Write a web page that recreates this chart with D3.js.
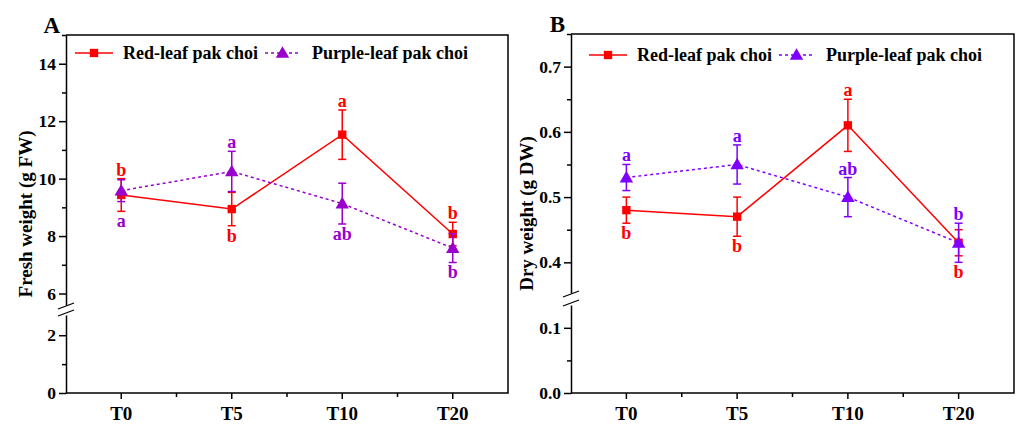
<!DOCTYPE html>
<html>
<head>
<meta charset="utf-8">
<script src="https://cdn.jsdelivr.net/npm/d3@7"></script>
<style>
  body { margin: 0; background: #fff; }
  svg { display: block; font-family: "Liberation Serif", "Times New Roman", serif; font-weight: bold; }
</style>
</head>
<body>
<svg id="chart" width="1016" height="424"></svg>
<script>
// time points on the x axis
var timePoints = ["T0", "T5", "T10", "T20"];

// panel A - fresh weight (g FW)
var freshRed = [9.43, 8.94, 11.53, 8.07];
var freshRedErr = [0.57, 0.58, 0.86, 0.41];
var freshPurple = [9.58, 10.25, 9.13, 7.58];
var freshPurpleErr = [0.38, 0.70, 0.71, 0.50];
var freshRedLetters = ["b", "b", "a", "b"];
var freshPurpleLetters = ["a", "a", "ab", "b"];
var freshTicksUpper = [6, 8, 10, 12, 14];
var freshTicksLower = [0, 2];

// panel B - dry weight (g DW)
var dryRed = [0.48, 0.47, 0.61, 0.43];
var dryRedErr = [0.02, 0.03, 0.04, 0.02];
var dryPurple = [0.53, 0.55, 0.50, 0.43];
var dryPurpleErr = [0.02, 0.03, 0.03, 0.03];
var dryRedLetters = ["b", "b", "a", "b"];
var dryPurpleLetters = ["a", "a", "ab", "b"];
var dryTicksUpper = [0.4, 0.5, 0.6, 0.7];
var dryTicksLower = [0.0, 0.1];

var seriesNames = ["Red-leaf pak choi", "Purple-leaf pak choi"];

var svg = d3.select("#chart");

var panels = [
  {
    label: "A", title: "Fresh weight (g FW)",
    left: 66, right: 508, top: 35, bottom: 393, titleX: 25,
    upper: { domain: [5.6, 15], range: [305, 35] },
    lower: { domain: [0, 2.7], range: [393, 315] },
    ticksUpper: freshTicksUpper, ticksLower: freshTicksLower, fmt: d3.format("d"),
    red: freshRed, redErr: freshRedErr, redLetters: freshRedLetters, redSide: [-1, 1, -1, -1],
    purple: freshPurple, purpleErr: freshPurpleErr, purpleLetters: freshPurpleLetters, purpleSide: [1, -1, 1, 1],
    purpleColor: "#9900cc",
    legendY: 53, legend: [75, 265]
  },
  {
    label: "B", title: "Dry weight (g DW)",
    left: 571, right: 1014, top: 34, bottom: 393, titleX: 526,
    upper: { domain: [0.353, 0.75], range: [293, 34] },
    lower: { domain: [0, 0.135], range: [393, 305] },
    ticksUpper: dryTicksUpper, ticksLower: dryTicksLower, fmt: d3.format(".1f"),
    red: dryRed, redErr: dryRedErr, redLetters: dryRedLetters, redSide: [1, 1, -1, 1],
    purple: dryPurple, purpleErr: dryPurpleErr, purpleLetters: dryPurpleLetters, purpleSide: [-1, -1, -1, -1],
    purpleColor: "#7f00ff",
    legendY: 55, legend: [589, 779]
  }
];

var red = "#ff0000";

panels.forEach(drawPanel);

function drawPanel(p) {
  var g = svg.append("g");

  var x = d3.scaleBand().domain(timePoints).range([p.left, p.right]).padding(0);
  var cx = function (t) { return x(t) + x.bandwidth() / 2; };

  var yUp = d3.scaleLinear().domain(p.upper.domain).range(p.upper.range);
  var yLo = d3.scaleLinear().domain(p.lower.domain).range(p.lower.range);
  var y = function (v) { return v >= p.upper.domain[0] ? yUp(v) : yLo(v); };

  // frame: top, right, bottom
  g.append("path")
    .attr("d", "M" + p.left + "," + p.top + "H" + p.right + "V" + p.bottom + "H" + p.left)
    .attr("fill", "none").attr("stroke", "#000").attr("stroke-width", 1.5);

  // y axis segments with major and minor ticks
  [[yUp, p.ticksUpper], [yLo, p.ticksLower]].forEach(function (seg) {
    var sc = seg[0], ticks = seg[1];
    var step = ticks[1] - ticks[0];
    var minor = [];
    for (var i = -1; i < ticks.length; i++) {
      var m = ticks[0] + step * (i + 0.5);
      if (m >= sc.domain()[0] && m <= sc.domain()[1]) minor.push(m);
    }
    var ax = g.append("g")
      .attr("transform", "translate(" + p.left + ",0)")
      .call(d3.axisLeft(sc).tickValues(ticks).tickFormat(p.fmt).tickSize(7).tickSizeOuter(0).tickPadding(3));
    ax.select(".domain").attr("stroke-width", 1.5);
    ax.selectAll(".tick line").attr("stroke-width", 1.5);
    ax.selectAll("text").attr("font-size", 17.5).attr("fill", "#000");
    ax.attr("font-family", null);

    g.append("g")
      .attr("transform", "translate(" + p.left + ",0)")
      .call(d3.axisLeft(sc).tickValues(minor).tickFormat("").tickSize(4).tickSizeOuter(0))
      .call(function (s) { s.select(".domain").remove(); s.selectAll("line").attr("stroke-width", 1.5); });
  });

  // axis break marks
  var gapTop = p.upper.range[0], gapBot = p.lower.range[1];
  [gapTop + 1, gapBot - 2].forEach(function (yy) {
    g.append("line")
      .attr("x1", p.left - 8).attr("y1", yy + 3)
      .attr("x2", p.left + 8).attr("y2", yy - 3)
      .attr("stroke", "#000").attr("stroke-width", 1.3);
  });

  // x axis
  var xa = g.append("g")
    .attr("transform", "translate(0," + p.bottom + ")")
    .call(d3.axisBottom(x).tickSize(6).tickSizeOuter(0).tickPadding(8));
  xa.select(".domain").remove();
  xa.selectAll(".tick line").attr("stroke-width", 1.5);
  xa.selectAll("text").attr("font-size", 19).attr("fill", "#000");
  xa.attr("font-family", null);

  g.append("g").selectAll("line")
    .data(timePoints.slice(1))
    .enter().append("line")
    .attr("x1", function (d) { return x(d); }).attr("x2", function (d) { return x(d); })
    .attr("y1", p.bottom).attr("y2", p.bottom + 4)
    .attr("stroke", "#000").attr("stroke-width", 1.5);

  // axis title and panel letter
  var midY = (p.top + p.bottom) / 2;
  g.append("text")
    .attr("transform", "translate(" + p.titleX + "," + midY + ") rotate(-90)")
    .attr("text-anchor", "middle").attr("dy", "0.35em")
    .attr("font-size", 19).text(p.title);

  g.append("text")
    .attr("x", p.left - 6).attr("y", p.top - 2)
    .attr("text-anchor", "end").attr("font-size", 23).text(p.label);

  var series = [
    { vals: p.red, err: p.redErr, letters: p.redLetters, side: p.redSide, color: red, dash: null, shape: d3.symbolSquare, size: 70 },
    { vals: p.purple, err: p.purpleErr, letters: p.purpleLetters, side: p.purpleSide, color: p.purpleColor, dash: "3,3", shape: d3.symbolTriangle, size: 78 }
  ];

  series.forEach(function (s) {
    var pts = timePoints.map(function (t, i) { return { t: t, v: s.vals[i], e: s.err[i] }; });

    g.append("path")
      .datum(pts)
      .attr("fill", "none").attr("stroke", s.color).attr("stroke-width", 1.5)
      .attr("stroke-dasharray", s.dash)
      .attr("d", d3.line().x(function (d) { return cx(d.t); }).y(function (d) { return y(d.v); }));

    var eb = g.append("g").attr("stroke", s.color).attr("stroke-width", 1.5);
    pts.forEach(function (d) {
      var px = cx(d.t), y1 = y(d.v + d.e), y2 = y(d.v - d.e);
      eb.append("line").attr("x1", px).attr("x2", px).attr("y1", y1).attr("y2", y2);
      eb.append("line").attr("x1", px - 4).attr("x2", px + 4).attr("y1", y1).attr("y2", y1);
      eb.append("line").attr("x1", px - 4).attr("x2", px + 4).attr("y1", y2).attr("y2", y2);
    });

    g.append("g").selectAll("path")
      .data(pts)
      .enter().append("path")
      .attr("transform", function (d) { return "translate(" + cx(d.t) + "," + (y(d.v) + (s.shape === d3.symbolTriangle ? 1 : 0)) + ")"; })
      .attr("d", d3.symbol().type(s.shape).size(s.size))
      .attr("fill", s.color);
  });

  // significance letters
  series.forEach(function (s) {
    timePoints.forEach(function (t, i) {
      var ly;
      if (s.side[i] < 0) {
        ly = y(s.vals[i] + s.err[i]) - 3;
      } else {
        var low = Math.min(p.red[i] - p.redErr[i], p.purple[i] - p.purpleErr[i]);
        ly = y(low) + 16;
      }
      g.append("text")
        .attr("x", cx(t)).attr("y", ly)
        .attr("text-anchor", "middle").attr("font-size", 18)
        .attr("fill", s.color).text(s.letters[i]);
    });
  });

  // legend
  var ly = p.legendY;
  series.forEach(function (s, k) {
    var lx = p.legend[k];
    var len = k === 0 ? 38 : 35;
    g.append("line")
      .attr("x1", lx).attr("x2", lx + len).attr("y1", ly).attr("y2", ly)
      .attr("stroke", s.color).attr("stroke-width", 1.5).attr("stroke-dasharray", s.dash);
    g.append("path")
      .attr("transform", "translate(" + (lx + len / 2) + "," + (ly + (k === 1 ? 1 : 0)) + ")")
      .attr("d", d3.symbol().type(s.shape).size(s.size))
      .attr("fill", s.color);
    g.append("text")
      .attr("x", lx + len + (k === 0 ? 10 : 12)).attr("y", ly + 6)
      .attr("font-size", 18).attr("fill", "#000").text(seriesNames[k]);
  });
}
</script>
</body>
</html>
